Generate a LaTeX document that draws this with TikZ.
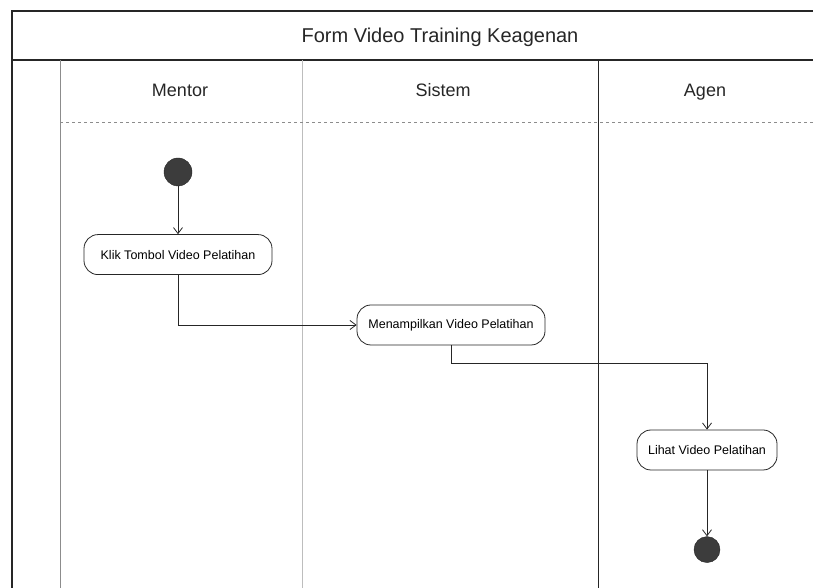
\documentclass[tikz,border=0pt]{standalone}
\usepackage{fontspec}
\setmainfont{Liberation Sans}
\usepackage{tikz}
\usetikzlibrary{arrows.meta,positioning}
\definecolor{inkdark}{HTML}{262626}
\definecolor{inkgray}{HTML}{8C8C8C}
\definecolor{inklight}{HTML}{BDBDBD}

\begin{document}
\begin{tikzpicture}[
    x=1pt,y=1pt,
    action/.style={draw=inkdark,thick,rounded corners=14pt,minimum height=40pt,font=\fontsize{12.5}{14}\selectfont,inner sep=4pt},
    initial/.style={circle,fill=inkdark!90,draw=inkdark,minimum size=28pt,inner sep=0pt},
    final/.style={circle,fill=inkdark!90,draw=inkdark,minimum size=26pt,inner sep=0pt},
    lane/.style={font=\fontsize{18}{20}\selectfont,color=inkdark,text height=13pt,text depth=4pt},
    arr/.style={-{Straight Barb[length=6pt,width=9pt]},thick,color=inkdark}
]
\useasboundingbox (0,0) rectangle (813,588);

% frame and swimlanes
\draw[inkdark,line width=1.2pt] (813,577) -- (12,577) -- (12,0);
\draw[inkdark,line width=1.2pt] (12,528) -- (813,528);
\draw[inkgray,line width=0.9pt] (60,528) -- (60,0);
\draw[inklight,line width=0.8pt] (302,528) -- (302,0);
\draw[inkdark,line width=1pt] (598,528) -- (598,0);
\draw[inkgray,dashed,line width=0.7pt] (60,466) -- (813,466);

\node[font=\fontsize{20}{22}\selectfont,color=inkdark] (title) at (440,551) {Form Video Training Keagenan};
\node[lane] (mentor) at (180,496) {Mentor};
\node[lane] (sistem) at (443,496) {Sistem};
\node[lane] (agen) at (705,496) {Agen};

% activities
\node[initial] (start) at (178,416) {};
\node[action,minimum width=188pt,below=48pt of start] (klik) {Klik Tombol Video Pelatihan};
\node[action,minimum width=188pt] (tampil) at (451,263) {Menampilkan Video Pelatihan};
\node[action,minimum width=140pt] (lihat) at (707,138) {Lihat Video Pelatihan};
\node[final,below=66pt of lihat] (end) {};

\draw[arr] (start) -- (klik);
\draw[arr] (klik.south) |- (tampil.west);
\draw[arr] (tampil.south) -- ++(0,-18) -| (lihat.north);
\draw[arr] (lihat) -- (end);
\end{tikzpicture}
\end{document}
